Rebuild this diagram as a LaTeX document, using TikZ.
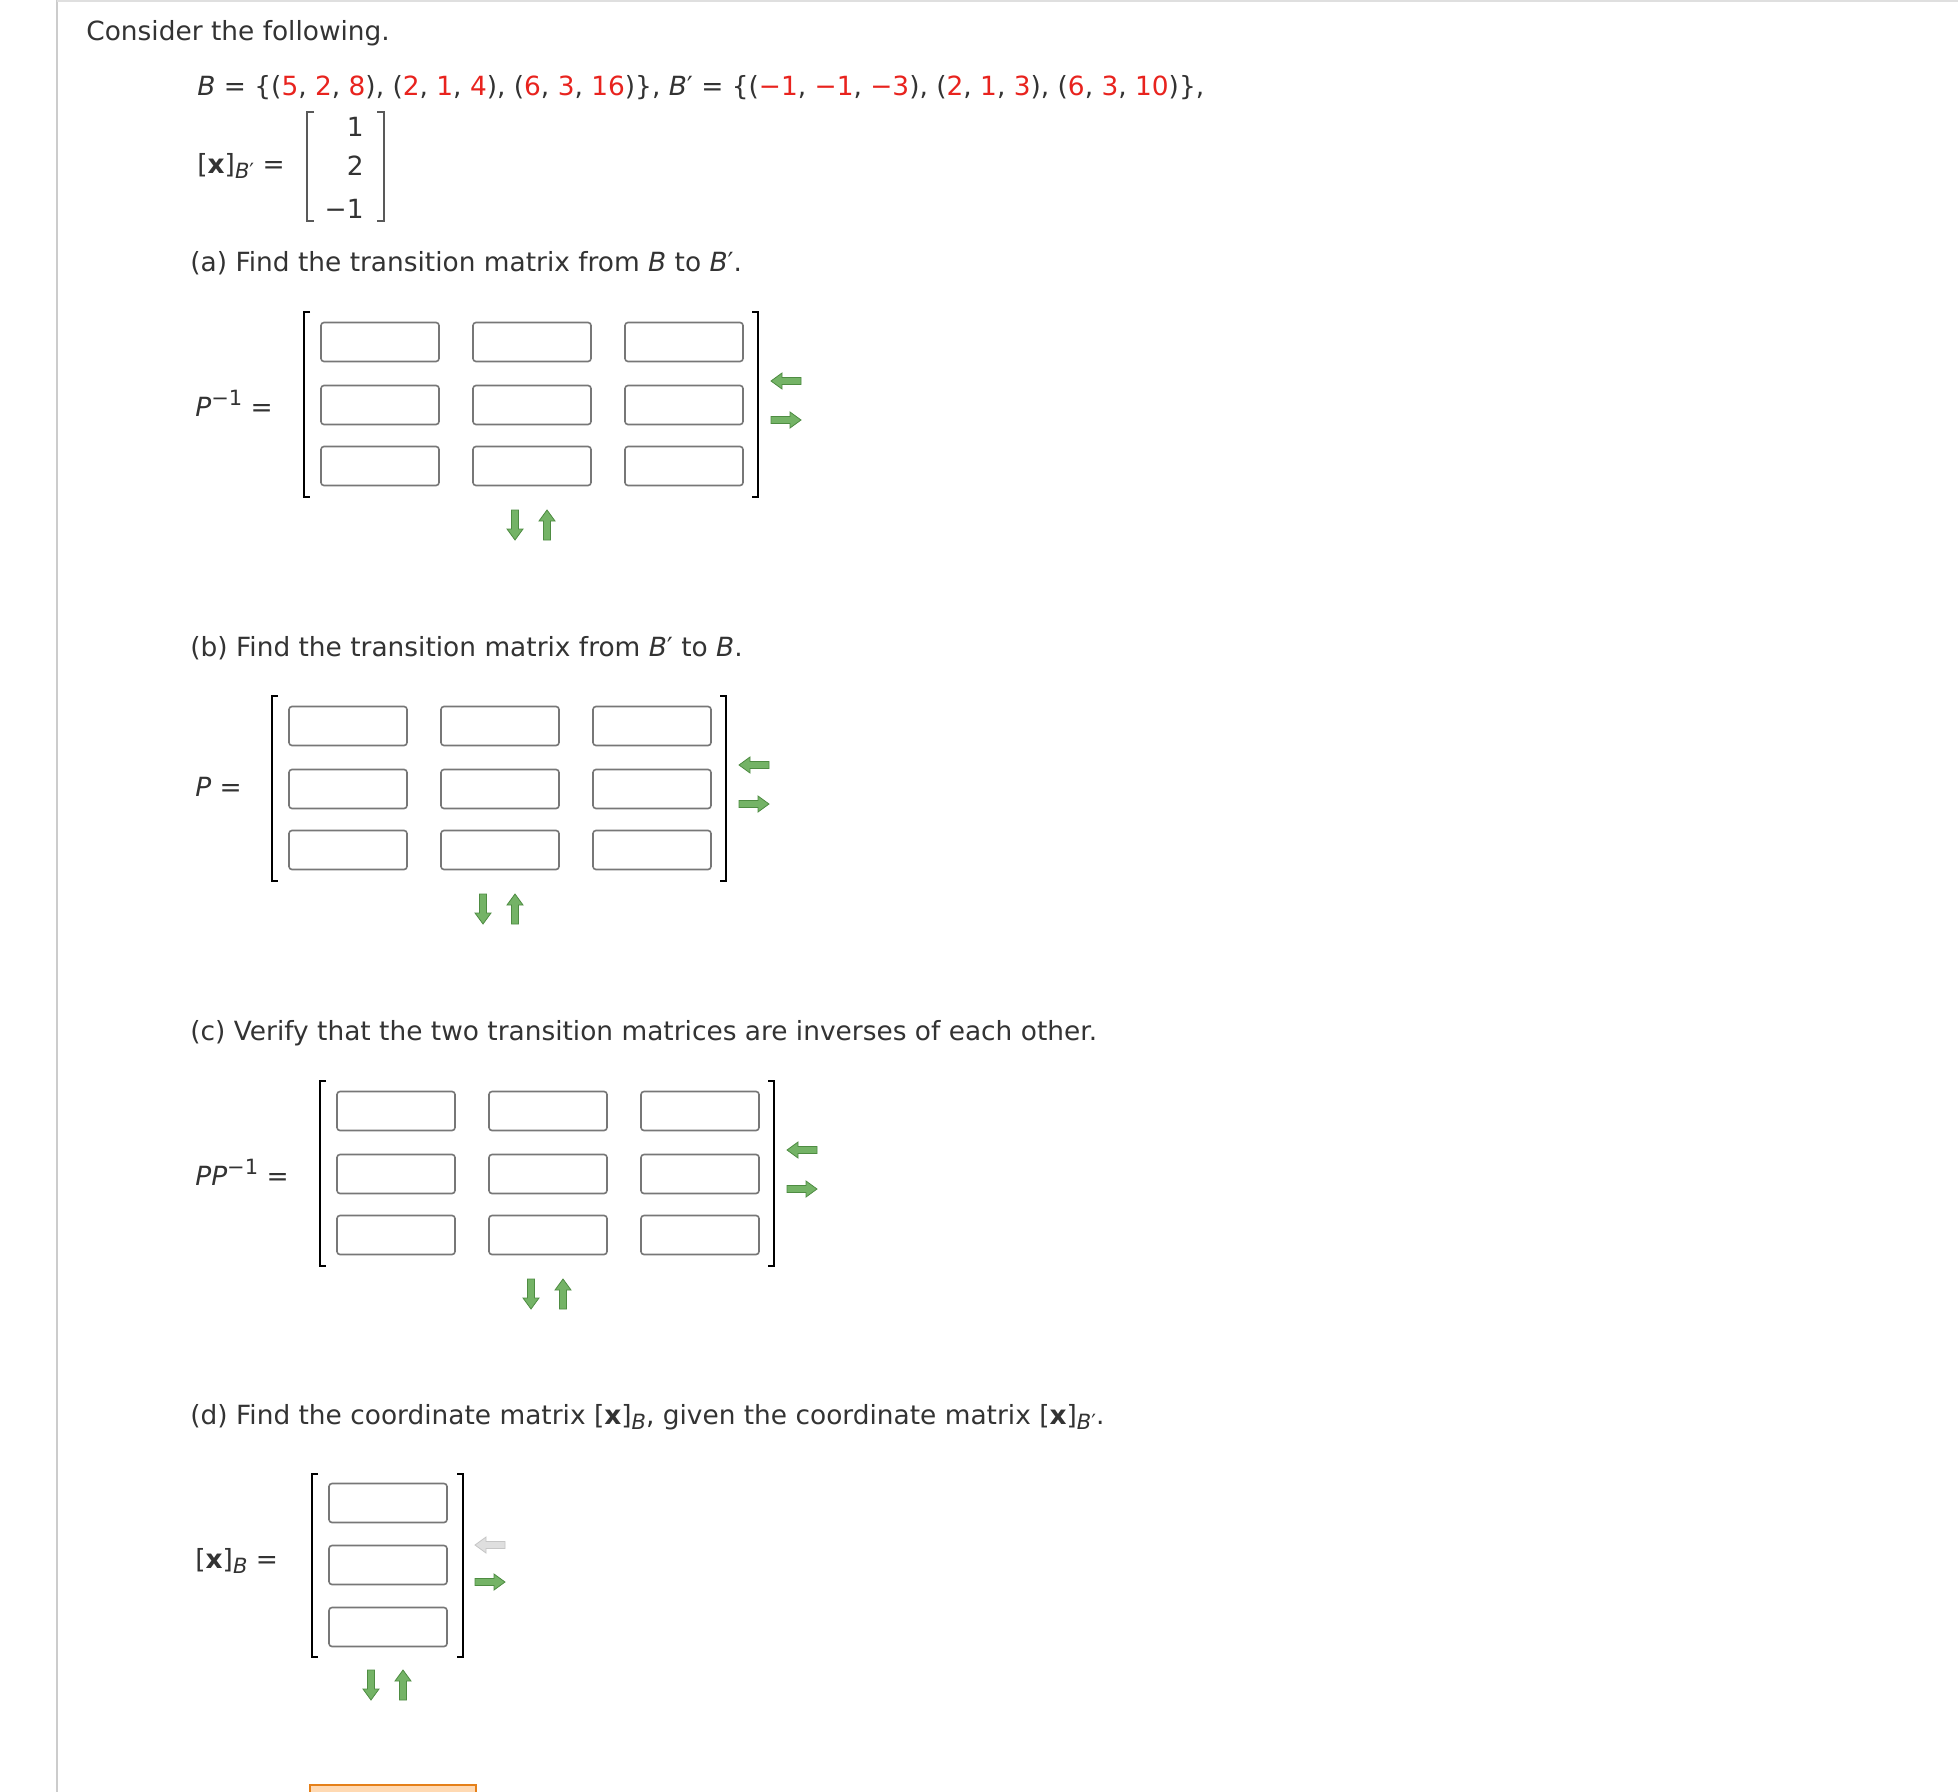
\documentclass[tikz,border=0pt]{standalone}
\usepackage{fontspec}
\setmainfont{DejaVu Sans}
\definecolor{txt}{HTML}{333333}
\definecolor{rd}{HTML}{E8231E}
\definecolor{gbox}{HTML}{777777}
\definecolor{garr}{HTML}{74B366}
\definecolor{garrd}{HTML}{4E8C42}
\tikzset{
  lbl/.style={anchor=base west,inner sep=0pt,text=txt,font=\fontsize{13.2}{15}\selectfont},
  ibox/.style={draw=gbox,line width=0.8pt,rounded corners=1.5pt,inner sep=0pt},
  brk/.style={draw=black,line width=0.9pt},
  arr/.style={fill=garr,draw=garrd,line width=0.4pt},
}
\newcommand\R[1]{\textcolor{rd}{#1}}
\newcommand\sbx[1]{\raisebox{-0.35ex}{\fontsize{10.5}{11}\selectfont #1}}
\newcommand\spx[1]{\raisebox{0.75ex}{\fontsize{10.5}{11}\selectfont #1}}
\newcommand\harr[3]{% x y dir(1 right,-1 left)
  \begin{scope}[shift={(#1,#2)},xscale=#3]
  \path[arr] (-15,-3.5)--(4,-3.5)--(4,-8)--(15,0)--(4,8)--(4,3.5)--(-15,3.5)--cycle;
  \end{scope}}
\newcommand\varr[3]{% x y dir(1 down,-1 up)
  \begin{scope}[shift={(#1,#2)},yscale=#3]
  \path[arr] (-3.5,-15)--(-3.5,4)--(-8,4)--(0,15)--(8,4)--(3.5,4)--(3.5,-15)--cycle;
  \end{scope}}
% matrix 3x3: name, dx, dy
\newcommand\bigmat[3]{%
  \begin{scope}[shift={(#2,#3)}]
  \draw[brk] (310,312)--(304,312)--(304,497)--(310,497);
  \draw[brk] (752,312)--(758,312)--(758,497)--(752,497);
  \foreach \c/\cx in {1/380,2/532,3/684}{
    \foreach \r/\ry in {1/342,2/405,3/466}{
      \node[ibox,minimum width=59pt,minimum height=19.5pt] (#1-\r-\c) at (\cx,\ry) {};
  }}
  \harr{786}{381}{-1}
  \harr{786}{420}{1}
  \varr{515}{525}{1}
  \varr{547}{525}{-1}
  \end{scope}}
\begin{document}
\begin{tikzpicture}[x=0.5pt,y=-0.5pt]
\useasboundingbox (0,0) rectangle (1958,1792);
\fill[white] (0,0) rectangle (1958,1792);
\draw[gray!40,line width=1.2pt] (57,0)--(57,1792);
\draw[gray!25,line width=0.8pt] (57,1)--(1958,1);

\node[lbl] (t0) at (86,41) {Consider the following.};
\node[lbl] (t1) at (197,96) {\textit{B} = \{(\R{5}, \R{2}, \R{8}), (\R{2}, \R{1}, \R{4}), (\R{6}, \R{3}, \R{16})\}, \textit{B}′ = \{(\R{−1}, \R{−1}, \R{−3}), (\R{2}, \R{1}, \R{3}), (\R{6}, \R{3}, \R{10})\},};
\node[lbl,anchor=west] (xb) at (197,166) {[\textbf{x}]\sbx{\textit{B}′} =};
\draw[draw=gray!70!black,line width=1.2pt] (314,112)--(307,112)--(307,221)--(314,221);
\draw[draw=gray!70!black,line width=1.2pt] (377,112)--(384,112)--(384,221)--(377,221);
\node[lbl,anchor=east] (v1) at (364,127) {1};
\node[lbl,anchor=east] (v2) at (364,166) {2};
\node[lbl,anchor=east] (v3) at (364,209) {−1};

\node[lbl] (ta) at (190,272) {(a) Find the transition matrix from \textit{B} to \textit{B}′.};
\node[lbl,anchor=west] (la) at (195,403) {\textit{P}\spx{−1} =};
\bigmat{ma}{0}{0}

\node[lbl] (tb) at (190,656) {(b) Find the transition matrix from \textit{B}′ to \textit{B}.};
\node[lbl,anchor=west] (lb) at (195,787) {\textit{P} =};
\bigmat{mb}{-32}{384}

\node[lbl] (tc) at (190,1040) {(c) Verify that the two transition matrices are inverses of each other.};
\node[lbl,anchor=west] (lc) at (195,1172) {\textit{PP}\spx{−1} =};
\bigmat{mc}{16}{769}

\node[lbl] (td) at (190,1424) {(d) Find the coordinate matrix [\textbf{x}]\sbx{\textit{B}}, given the coordinate matrix [\textbf{x}]\sbx{\textit{B}′}.};
\node[lbl,anchor=west] (ld) at (195,1561) {[\textbf{x}]\sbx{\textit{B}} =};
\draw[brk] (318,1474)--(312,1474)--(312,1657)--(318,1657);
\draw[brk] (457,1474)--(463,1474)--(463,1657)--(457,1657);
\foreach \r/\ry in {1/1503,2/1565,3/1627}{
  \node[ibox,minimum width=59pt,minimum height=19.5pt] (md-\r) at (388,\ry) {};
}
\begin{scope}[shift={(490,1545)},xscale=-1]
\path[fill=gray!25,draw=gray!45,line width=0.4pt] (-15,-3.5)--(4,-3.5)--(4,-8)--(15,0)--(4,8)--(4,3.5)--(-15,3.5)--cycle;
\end{scope}
\harr{490}{1582}{1}
\varr{371}{1685}{1}
\varr{403}{1685}{-1}

\fill[orange!30] (310,1785) rectangle (476,1800);
\draw[draw=orange!60!brown,line width=1pt] (310,1800)--(310,1785)--(476,1785)--(476,1800);
\end{tikzpicture}
\end{document}
